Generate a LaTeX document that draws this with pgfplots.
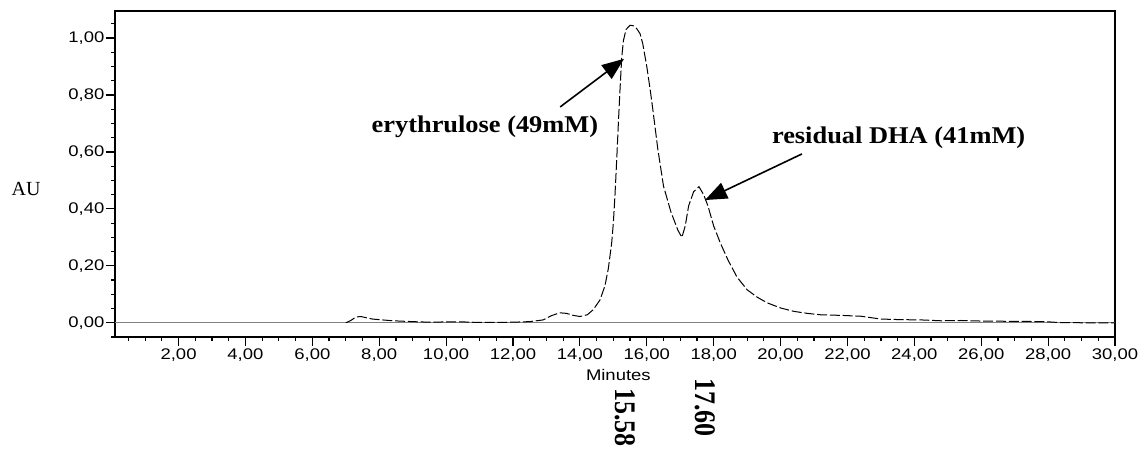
\documentclass[border=0pt]{standalone}
\usepackage{pgfplots}
\pgfplotsset{compat=1.18}
\usepackage{fontspec}
\setmainfont{Liberation Serif}
\newfontfamily\arialfont{Liberation Sans}
\usetikzlibrary{arrows.meta}
\begin{document}
\begin{tikzpicture}
\path[use as bounding box] (-57.5pt,-56.5pt) rectangle (514.5pt,168.5pt);
\begin{axis}[
  at={(0,0)}, anchor=south west, scale only axis,
  width=500pt, height=163pt,
  xmin=0.1, xmax=30, ymin=-0.05, ymax=1.095,
  clip=false,
  axis line style={line width=0.6pt},
  tick align=outside, xtick pos=bottom, ytick pos=left,
  xtick={2,4,...,30}, minor xtick={0.5,1,...,30},
  ytick={0,0.2,0.4,0.6,0.8,1},
  minor ytick={-0.05,0.05,0.1,0.15,0.25,0.3,0.35,0.45,0.5,0.55,0.65,0.7,0.75,0.85,0.9,0.95,1.05},
  major tick length=4.5pt, minor tick length=2pt,
  every tick/.style={black, line width=0.6pt},
  /pgf/number format/assume math mode=true,
  xticklabel style={font=\arialfont\fontsize{7.7}{8}\selectfont, xscale=1.2, inner sep=1pt,
    /pgf/number format/.cd, fixed, fixed zerofill, precision=2, use comma},
  yticklabel style={font=\arialfont\fontsize{7.7}{8}\selectfont, xscale=1.2, inner sep=0.5pt,
    /pgf/number format/.cd, fixed, fixed zerofill, precision=2, use comma},
]
\addplot[gray, line width=0.6pt] coordinates {(0.1,0) (30,0)};
\addplot[black, line width=0.5pt, dash pattern=on 5pt off 1.4pt] coordinates {
(7.0,0.0) (7.15,0.008) (7.3,0.02) (7.45,0.022) (7.6,0.018) (7.8,0.013) (8.0,0.011)
(8.4,0.007) (9.0,0.004) (9.5,0.002) (10.0,0.003) (10.5,0.003) (11.0,0.001) (11.5,0.001)
(12.0,0.002) (12.5,0.004) (12.9,0.01) (13.15,0.025) (13.4,0.035) (13.6,0.033) (13.8,0.026)
(14.0,0.022) (14.22,0.028) (14.4,0.046) (14.6,0.08) (14.75,0.13) (14.85,0.19) (14.95,0.28)
(15.0,0.35) (15.05,0.45) (15.1,0.57) (15.15,0.7) (15.2,0.82) (15.25,0.93) (15.3,0.99)
(15.38,1.03) (15.5,1.045) (15.6,1.043) (15.7,1.033) (15.8,1.015) (15.88,0.98) (16.0,0.9)
(16.1,0.82) (16.18,0.75) (16.33,0.61) (16.5,0.48) (16.72,0.39) (16.93,0.325) (17.05,0.30)
(17.15,0.34) (17.25,0.41) (17.4,0.46) (17.56,0.478) (17.7,0.45) (17.83,0.41) (18.0,0.34)
(18.2,0.28) (18.43,0.22) (18.7,0.16) (19.0,0.116) (19.3,0.09) (19.6,0.07) (20.0,0.052)
(20.4,0.04) (20.8,0.033) (21.2,0.028) (21.8,0.026) (22.4,0.023) (23.0,0.013) (23.6,0.011)
(24.2,0.01) (24.8,0.007) (25.4,0.008) (26.0,0.006) (27.0,0.005) (27.9,0.004) (28.3,0.001)
(29.0,0.0) (30.0,0.0)};
\node[font=\bfseries\fontsize{12}{12}\selectfont, xscale=1.1, anchor=base] at (axis cs:11.16,0.670) {erythrulose (49mM)};
\node[font=\bfseries\fontsize{12}{12}\selectfont, xscale=1.1, anchor=base] at (axis cs:23.53,0.630) {residual DHA (41mM)};
\draw[line width=0.8pt, -{Triangle[length=11pt,width=8.5pt]}] (axis cs:13.41,0.758) -- (axis cs:15.32,0.927);
\draw[line width=0.8pt, -{Triangle[length=11pt,width=8.5pt]}] (axis cs:20.64,0.593) -- (axis cs:17.74,0.431);
\node[font=\bfseries\fontsize{13}{13}\selectfont, rotate=-90, yscale=1.15] at (axis cs:15.35,-0.333) {15.58};
\node[font=\bfseries\fontsize{13}{13}\selectfont, rotate=-90, yscale=1.15] at (axis cs:17.75,-0.298) {17.60};
\node[font=\arialfont\fontsize{7.7}{8}\selectfont, xscale=1.2] at (axis cs:15.15,-0.185) {Minutes};
\node[font=\fontsize{10}{10}\selectfont] at (axis cs:-2.56,0.47) {AU};
\end{axis}
\end{tikzpicture}
\end{document}
